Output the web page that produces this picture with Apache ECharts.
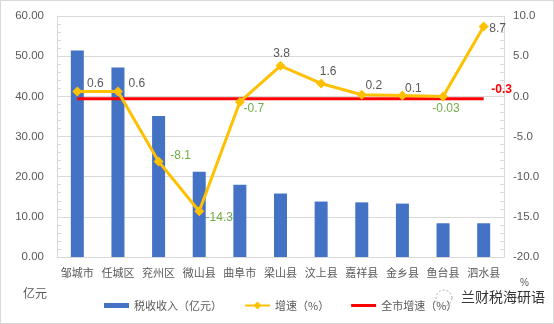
<!DOCTYPE html>
<html>
<head>
<meta charset="utf-8">
<script src="https://cdn.jsdelivr.net/npm/echarts@6/dist/echarts.min.js"></script>
<style>
  html, body { margin: 0; padding: 0; background: #fff; }
  #chart { width: 552px; height: 322px; border: 1px solid #d9d9d9; }
</style>
</head>
<body>
<div id="chart"></div>
<script>
// Counties / districts
const categories = ['邹城市', '任城区', '兖州区', '微山县', '曲阜市', '梁山县', '汶上县', '嘉祥县', '金乡县', '鱼台县', '泗水县'];
// Tax revenue (100 million yuan)
const revenue = [51.4, 47.2, 35.1, 21.2, 18.0, 15.8, 13.8, 13.6, 13.3, 8.4, 8.4];
// Growth rate (%)
const growth = [0.6, 0.6, -8.1, -14.3, -0.7, 3.8, 1.6, 0.2, 0.1, -0.03, 8.7];
// City-wide growth rate (%)
const cityGrowth = -0.3;
// Label offsets for growth values [dx, dy]
const growthLabelOffset = [[18, -8], [19, -8], [22, -6], [20, 6], [14, 7], [1, -12], [7, -12], [12, -9], [11, -7], [3, 12], [14, 2]];

const gray = '#595959';
const font = "'Liberation Sans', 'Noto Sans CJK SC', sans-serif";
const cjk = "'Noto Sans CJK SC', sans-serif";

const chart = echarts.init(document.getElementById('chart'));

const growthData = growth.map((v, i) => ({
  value: v,
  label: {
    show: true,
    position: 'inside',
    offset: growthLabelOffset[i],
    color: v < 0 ? '#70AD47' : gray,
    formatter: String(v)
  }
}));

const cityData = categories.map(() => cityGrowth);

const splitLine = { show: true, lineStyle: { color: '#d9d9d9', width: 1 } };
const minorTick = { show: true, splitNumber: 5, length: 4, lineStyle: { color: '#d9d9d9' } };

chart.setOption({
  backgroundColor: '#fff',
  animation: false,
  textStyle: { fontFamily: font },
  grid: { left: 56, right: 49, top: 15, bottom: 66 },
  legend: {
    left: 98, top: 294,
    itemGap: 22, itemWidth: 25, itemHeight: 10,
    textStyle: { color: gray, fontSize: 11, fontFamily: cjk },
    data: [
      { name: '税收收入（亿元）', icon: 'path://M0,0H25V5H0Z' },
      { name: '增速（%）' },
      { name: '全市增速（%）', icon: 'path://M0,0H25V3H0Z' }
    ]
  },
  xAxis: {
    type: 'category',
    data: categories,
    axisLine: { lineStyle: { color: '#d9d9d9' } },
    axisTick: { show: false },
    axisLabel: { color: gray, fontSize: 11, fontFamily: cjk, margin: 10, interval: 0 }
  },
  yAxis: [
    {
      type: 'value', min: 0, max: 60, interval: 10,
      axisLine: { show: true, lineStyle: { color: '#d9d9d9' } },
      axisTick: { show: false, inside: true },
      minorTick: minorTick,
      splitLine: splitLine,
      axisLabel: { color: gray, fontSize: 11.5, margin: 13, formatter: v => v.toFixed(2) }
    },
    {
      type: 'value', min: -20, max: 10, interval: 5,
      axisLine: { show: true, lineStyle: { color: '#d9d9d9' } },
      axisTick: { show: false, inside: true },
      minorTick: minorTick,
      splitLine: { show: false },
      axisLabel: { color: gray, fontSize: 11.5, margin: 9, formatter: v => v.toFixed(1) }
    }
  ],
  series: [
    {
      name: '税收收入（亿元）', type: 'bar', data: revenue,
      barWidth: 13, itemStyle: { color: '#4472C4' }
    },
    {
      name: '增速（%）', type: 'line', yAxisIndex: 1, data: growthData,
      symbol: 'diamond', symbolSize: 10,
      lineStyle: { color: '#FFC000', width: 3 },
      itemStyle: { color: '#FFC000' },
      label: { fontSize: 12 },
      z: 3
    },
    {
      name: '全市增速（%）', type: 'line', yAxisIndex: 1, data: cityData,
      symbol: 'none',
      lineStyle: { color: '#FF0000', width: 3 },
      itemStyle: { color: '#FF0000' },
      markPoint: {
        symbol: 'circle', symbolSize: 0,
        data: [{ coord: [categories.length - 1, cityGrowth], value: cityGrowth }],
        label: {
          show: true, position: 'inside', offset: [18, -9],
          color: '#FF0000', fontWeight: 'bold', fontSize: 12,
          formatter: String(cityGrowth)
        }
      },
      z: 2
    }
  ],
  graphic: [
    { type: 'text', left: 22, top: 286, style: { text: '亿元', fill: gray, font: "12px 'Noto Sans CJK SC'" } },
    { type: 'text', left: 519, top: 277, style: { text: '%', fill: gray, font: "10px 'Liberation Sans'" } },
    { type: 'circle', shape: { cx: 443, cy: 297, r: 8 }, style: { fill: 'none', stroke: '#aaa', lineWidth: 1, lineDash: [2, 2] } },
    { type: 'text', left: 460, top: 289, style: { text: '兰财税海研语', fill: '#333', font: "14px 'Noto Sans CJK SC'" } }
  ]
});
</script>
</body>
</html>
